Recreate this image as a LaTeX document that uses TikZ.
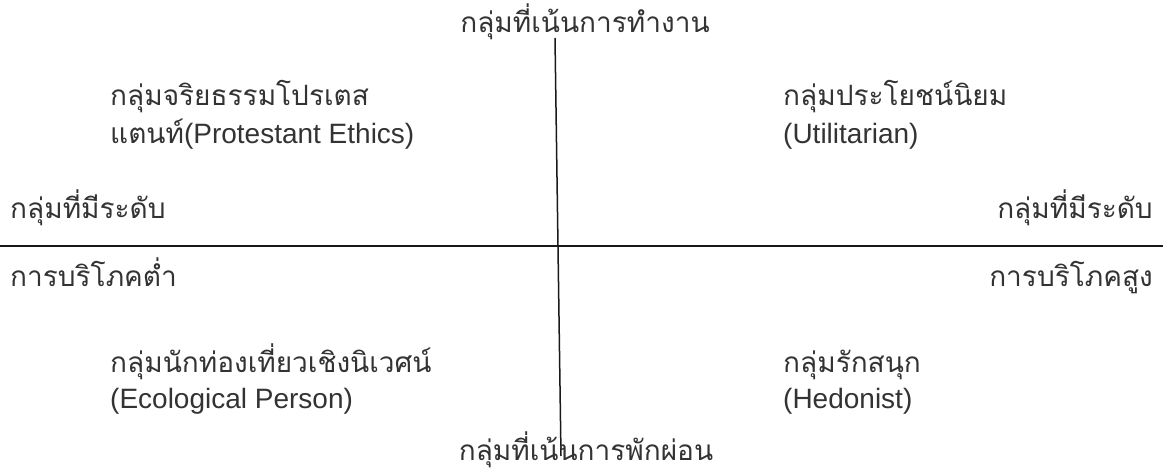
\documentclass[tikz,border=0pt]{standalone}
\usepackage{fontspec}
\setmainfont{Liberation Sans}
\newfontfamily\thaifont[Script=Thai]{Loma}
\usetikzlibrary{positioning}
\tikzset{
  lbl/.style={inner sep=0pt, font=\fontsize{28}{34}\selectfont, text=black!80},
  axis/.style={line width=1.5pt, black!90},
}
\begin{document}
\begin{tikzpicture}[x=1pt,y=1pt]
		\useasboundingbox (0,0) rectangle (1163,-473);
		
		% axes: consumption (left-right), work/leisure (up-down)
		\coordinate (xl) at (0,-246);
		\coordinate (xr) at (1163,-246);
		\coordinate (yt) at (555,-38);
		\coordinate (yb) at (561,-456);
		\draw[axis] (xl) -- (xr);
		\draw[axis] (yt) -- (yb);
		
		\node[lbl, anchor=base] (work) at (585,-33) {\thaifont กลุ่มที่เน้นการทำงาน};
		\node[lbl, anchor=base] (rest) at (586,-460) {\thaifont กลุ่มที่เน้นการพักผ่อน};
		
		\node[lbl, anchor=base west] (lowa) at (10,-219) {\thaifont กลุ่มที่มีระดับ};
		\node[lbl, anchor=base west] (lowb) at (10,-287) {\thaifont การบริโภคต่ำ};
		\node[lbl, anchor=base east] (higha) at (1153,-219) {\thaifont กลุ่มที่มีระดับ};
		\node[lbl, anchor=base east] (highb) at (1153,-287) {\thaifont การบริโภคสูง};
		
		% quadrants
		\node[lbl, anchor=base west] (prota) at (110,-106) {\thaifont กลุ่มจริยธรรมโปรเตส};
		\node[lbl, anchor=base west] (protb) at (110,-144) {{\thaifont แตนท์}(Protestant Ethics)};
		\node[lbl, anchor=base west] (utila) at (783,-106) {\thaifont กลุ่มประโยชน์นิยม};
		\node[lbl, anchor=base west] (utilb) at (783,-144) {(Utilitarian)};
		\node[lbl, anchor=base west] (ecoa) at (110,-372) {\thaifont กลุ่มนักท่องเที่ยวเชิงนิเวศน์};
		\node[lbl, anchor=base west] (ecob) at (110,-408) {(Ecological Person)};
		\node[lbl, anchor=base west] (hedoa) at (783,-372) {\thaifont กลุ่มรักสนุก};
		\node[lbl, anchor=base west] (hedob) at (783,-408) {(Hedonist)};
	\end{tikzpicture}
\end{document}
